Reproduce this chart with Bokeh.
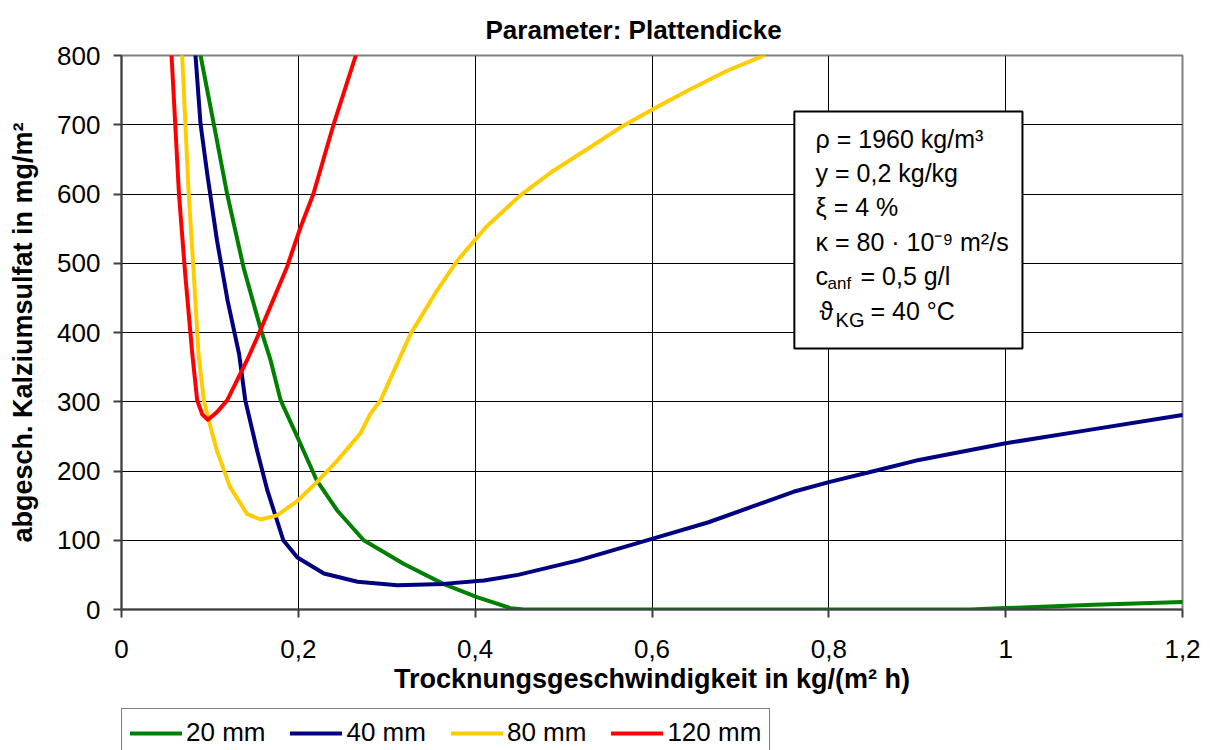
from bokeh.plotting import figure
from bokeh.layouts import column
from bokeh.models import (Range1d, FixedTicker, Legend, LegendItem, BoxAnnotation,
                          Label, CustomJSTickFormatter)
from bokeh.embed import file_html
from bokeh.resources import INLINE

# ---------------- data ----------------
x_20 = [0.0894, 0.1044, 0.1195, 0.138, 0.157, 0.1686, 0.180, 0.199, 0.221, 0.244, 0.274,
        0.319, 0.364, 0.402, 0.440, 0.455, 0.60, 0.80, 0.96, 1.0, 1.1, 1.2]
y_20 = [800, 701, 600, 494, 407, 360, 302, 249, 186, 143, 100,
        66, 37, 18, 2, 0, 0, 0, 0, 2, 7, 11]

x_40 = [0.0837, 0.0894, 0.097, 0.108, 0.120, 0.133, 0.140, 0.1535, 0.165, 0.176, 0.183,
        0.199, 0.229, 0.267, 0.312, 0.364, 0.410, 0.4485, 0.5167, 0.6, 0.664, 0.76, 0.8,
        0.855, 0.902, 1.0, 1.093, 1.2]
y_40 = [800, 701, 629, 533, 446, 369, 302, 229, 172, 128, 100,
        75, 52, 40, 35, 37, 42, 50, 71, 102, 126, 170, 184,
        201, 216, 240, 259, 281]

x_80 = [0.0686, 0.076, 0.0817, 0.087, 0.0931, 0.1026, 0.108, 0.1227, 0.142, 0.157, 0.176,
        0.199, 0.221, 0.244, 0.270, 0.2817, 0.293, 0.327, 0.357, 0.380, 0.412, 0.451,
        0.489, 0.527, 0.568, 0.602, 0.640, 0.685, 0.7266]
y_80 = [800, 600, 485, 370, 302, 254, 229, 177, 138, 130, 136,
        157, 184, 215, 254, 283, 302, 398, 461, 504, 552, 598,
        634, 665, 699, 723, 749, 778, 800]

x_120 = [0.0566, 0.065, 0.072, 0.080, 0.0856, 0.0913, 0.0977, 0.108, 0.1195, 0.142,
         0.157, 0.187, 0.2025, 0.217, 0.240, 0.265]
y_120 = [800, 600, 485, 370, 302, 282, 274, 285, 302, 360,
         403, 494, 552, 600, 701, 800]

series_labels = ["20 mm", "40 mm", "80 mm", "120 mm"]
series_colors = ["#008000", "#000080", "#FFCC00", "#FF0000"]

x_ticks = [0, 0.2, 0.4, 0.6, 0.8, 1.0, 1.2]
x_tick_labels = ["0", "0,2", "0,4", "0,6", "0,8", "1", "1,2"]
y_ticks = [0, 100, 200, 300, 400, 500, 600, 700, 800]

title_text = "Parameter: Plattendicke"
x_title = "Trocknungsgeschwindigkeit in kg/(m² h)"
y_title = "abgesch. Kalziumsulfat in mg/m²"

box_lines = ["ρ = 1960 kg/m³", "y = 0,2 kg/kg", "ξ = 4 %", "κ = 80 · 10⁻⁹ m²/s"]
box_c_main, box_c_sub, box_c_rest = "c", "anf", "= 0,5 g/l"
box_t_main, box_t_sub, box_t_rest = "ϑ", "KG", "= 40 °C"

FONT = "Liberation Sans"

# ---------------- main figure ----------------
p = figure(width=1210, height=707, x_range=Range1d(0, 1.2), y_range=Range1d(0, 800),
           output_backend="svg", toolbar_location=None,
           min_border_left=121, min_border_right=28, min_border_top=55, min_border_bottom=98)
p.background_fill_color = "white"
p.border_fill_color = "white"
p.outline_line_color = "#808080"
p.outline_line_width = 2

p.title.text = title_text
p.title.align = "left"
p.title.offset = 364
p.title.text_font = FONT
p.title.text_font_size = "26px"
p.title.text_font_style = "bold"
p.title.text_color = "black"
p.title.standoff = 22

p.xaxis.ticker = FixedTicker(ticks=x_ticks)
p.xaxis.formatter = CustomJSTickFormatter(args=dict(xt=x_ticks, xl=x_tick_labels), code="""
    for (let i = 0; i < xt.length; i++) { if (Math.abs(xt[i] - tick) < 1e-9) return xl[i]; }
    return '';
""")
p.yaxis.ticker = FixedTicker(ticks=y_ticks)
p.xgrid.ticker = FixedTicker(ticks=x_ticks)
p.ygrid.ticker = FixedTicker(ticks=y_ticks)
p.grid.grid_line_color = "black"
p.grid.grid_line_width = 1

for ax in (p.xaxis, p.yaxis):
    ax.axis_line_color = "#404040"
    ax.axis_line_width = 2
    ax.major_tick_line_color = "#404040"
    ax.major_tick_line_width = 2
    ax.major_tick_out = 8
    ax.major_tick_in = 0
    ax.minor_tick_line_color = None
    ax.major_label_text_font = FONT
    ax.major_label_text_font_size = "26px"
    ax.major_label_text_color = "black"
    ax.axis_label_text_font = FONT
    ax.axis_label_text_font_style = "bold"
    ax.axis_label_text_color = "black"
    ax.axis_label_text_font_size = "27px"

p.xaxis.axis_label = x_title
p.yaxis.axis_label = y_title
p.xaxis.major_label_standoff = 22
p.yaxis.major_label_standoff = 13
p.xaxis.axis_label_standoff = 3
p.yaxis.axis_label_standoff = 16

for xs, ys, c in zip([x_20, x_40, x_80, x_120], [y_20, y_40, y_80, y_120], series_colors):
    p.line(xs, ys, line_color=c, line_width=4, line_join="round", line_cap="round")

# ---------------- annotation box ----------------
box = BoxAnnotation(left=0.761, right=1.019, bottom=377, top=719,
                    fill_color="white", fill_alpha=1, line_color="black", line_alpha=1,
                    line_width=2)
p.add_layout(box)

x_txt = 0.785
base_y = [680, 630, 581, 531, 481, 431]
TS = "25px"
for txt, yy in zip(box_lines, base_y[:4]):
    p.add_layout(Label(x=x_txt, y=yy, text=txt, text_font=FONT, text_font_size=TS,
                       text_baseline="alphabetic", text_color="black"))
p.add_layout(Label(x=x_txt, y=base_y[4], text=box_c_main, text_font=FONT, text_font_size=TS,
                   text_baseline="alphabetic", text_color="black"))
p.add_layout(Label(x=x_txt, y=base_y[4], x_offset=12, y_offset=-7, text=box_c_sub, text_font=FONT,
                   text_font_size="17px", text_baseline="alphabetic", text_color="black"))
p.add_layout(Label(x=x_txt, y=base_y[4], x_offset=45, text=box_c_rest, text_font=FONT,
                   text_font_size=TS, text_baseline="alphabetic", text_color="black"))
p.add_layout(Label(x=x_txt, y=base_y[5], x_offset=4, text=box_t_main, text_font=FONT,
                   text_font_size=TS, text_baseline="alphabetic", text_color="black"))
p.add_layout(Label(x=x_txt, y=base_y[5], x_offset=20, y_offset=-9, text=box_t_sub, text_font=FONT,
                   text_font_size="20px", text_baseline="alphabetic", text_color="black"))
p.add_layout(Label(x=x_txt, y=base_y[5], x_offset=55, text=box_t_rest, text_font=FONT,
                   text_font_size=TS, text_baseline="alphabetic", text_color="black"))

# ---------------- legend strip (below the chart) ----------------
pl = figure(width=1210, height=43, x_range=Range1d(0, 1), y_range=Range1d(0, 1),
            output_backend="svg", toolbar_location=None, x_axis_type=None, y_axis_type=None,
            min_border_left=116, min_border_top=1, min_border_right=0, min_border_bottom=0)
pl.outline_line_color = None
pl.background_fill_color = "white"
pl.border_fill_color = "white"
# legend-key renderers: placed outside the strip's visible range so only the keys show
leg_renderers = [pl.line([2, 3], [2, 3], line_color=c, line_width=4, line_cap="round")
                 for c in series_colors]
legend = Legend(items=[LegendItem(label=l, renderers=[r])
                       for l, r in zip(series_labels, leg_renderers)],
                orientation="horizontal", location="top_left")
legend.label_text_font = FONT
legend.label_text_font_size = "26px"
legend.label_text_color = "black"
legend.glyph_width = 52
legend.glyph_height = 24
legend.label_standoff = 4
legend.spacing = 25
legend.padding = 8
legend.margin = 0
legend.border_line_color = "black"
legend.border_line_width = 1
legend.background_fill_color = "white"
legend.background_fill_alpha = 1
pl.add_layout(legend)

layout = column(p, pl, spacing=0)
open("out.html", "w").write(file_html(layout, INLINE))
